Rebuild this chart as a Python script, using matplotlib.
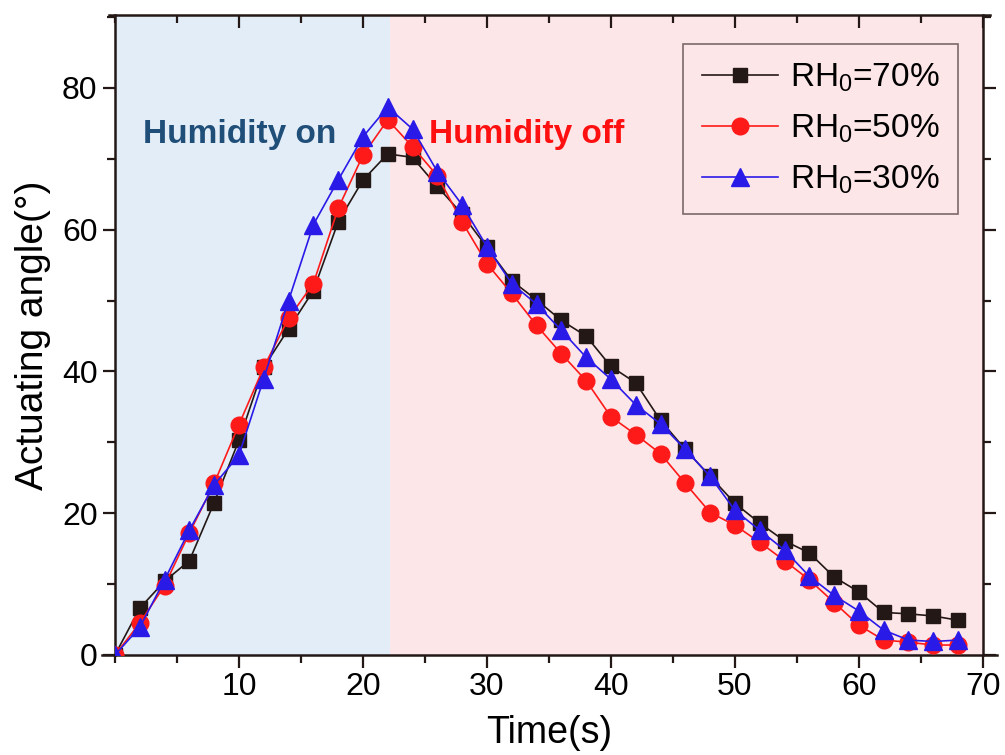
import matplotlib
matplotlib.use('Agg')
import matplotlib.pyplot as plt
from matplotlib.ticker import MultipleLocator

plt.rcParams['font.family'] = ['Liberation Sans', 'DejaVu Sans']
plt.rcParams['mathtext.fontset'] = 'custom'
plt.rcParams['mathtext.rm'] = 'Liberation Sans'
plt.rcParams['mathtext.default'] = 'regular'

# Datos
tiempo = list(range(0, 70, 2))
rh70 = [0, 6.6, 10.4, 13.3, 21.5, 30.3, 40.6, 46.0, 51.4, 61.1, 67.0, 70.7,
        70.2, 66.1, 62.2, 57.5, 52.8, 50.1, 47.2, 45.0, 40.7, 38.4, 33.1,
        29.0, 25.2, 21.4, 18.6, 16.1, 14.4, 11.0, 8.9, 6.0, 5.8, 5.5, 4.9]
rh50 = [0, 4.5, 9.8, 17.2, 24.2, 32.5, 40.6, 47.5, 52.4, 63.0, 70.5, 75.5,
        71.7, 67.6, 61.1, 55.2, 51.0, 46.5, 42.5, 38.7, 33.6, 31.1, 28.4,
        24.2, 20.1, 18.3, 15.9, 13.3, 10.6, 7.4, 4.2, 2.1, 1.8, 1.4, 1.4]
rh30 = [0, 3.9, 10.6, 17.6, 24.0, 28.2, 39.0, 50.0, 60.7, 67.0, 73.1, 77.3,
        74.2, 68.2, 63.5, 57.6, 52.4, 49.5, 45.8, 42.0, 38.9, 35.3, 32.6,
        29.0, 25.2, 20.4, 17.6, 14.8, 11.1, 8.4, 6.2, 3.5, 2.1, 1.9, 2.1]
etiquetas = ['RH$_0$=70%', 'RH$_0$=50%', 'RH$_0$=30%']
t_corte = 22.2

fig = plt.figure(figsize=(10.05, 7.55), dpi=100)
ax = fig.add_axes([0.1144, 0.1325, 0.8636, 0.8477])

ax.axvspan(0, t_corte, color='#E3EDF7', zorder=0, lw=0)
ax.axvspan(t_corte, 70, color='#FDE6E8', zorder=0, lw=0)

ax.plot(tiempo, rh70, color='#231815', lw=1.2, marker='s', ms=10.5,
        mfc='#231815', mec='#231815', label=etiquetas[0], zorder=3)
ax.plot(tiempo, rh50, color='#FF1A1A', lw=1.2, marker='o', ms=12,
        mfc='#FF1A1A', mec='#FF1A1A', label=etiquetas[1], zorder=4)
ax.plot(tiempo, rh30, color='#2A1AE8', lw=1.2, marker='^', ms=12.5,
        mfc='#2A1AE8', mec='#2A1AE8', label=etiquetas[2], zorder=5)

ax.text(2.3, 73.5, 'Humidity on', color='#1F4E79', fontsize=24,
        fontweight='bold', va='center', ha='left')
ax.text(25.3, 73.5, 'Humidity off', color='#FF1010', fontsize=24,
        fontweight='bold', va='center', ha='left')

ax.set_xlim(0, 70)
ax.set_ylim(0, 90.3)
ax.xaxis.set_major_locator(MultipleLocator(10))
ax.xaxis.set_minor_locator(MultipleLocator(5))
ax.yaxis.set_major_locator(MultipleLocator(20))
ax.yaxis.set_minor_locator(MultipleLocator(10))
ax.set_xticks(range(10, 71, 10))

ax.tick_params(which='both', direction='out', width=1.6, labelsize=23,
               top=True, right=True, color='#231815')
ax.tick_params(which='major', length=9)
ax.tick_params(which='minor', length=5.5)
for tk in ax.xaxis.get_major_ticks() + ax.xaxis.get_minor_ticks():
    tk.tick2line.set_marker(3)  # marcas superiores hacia dentro

for s in ax.spines.values():
    s.set_linewidth(1.8)
    s.set_color('#231815')
ax.spines['bottom'].set_bounds(-1.05, 71.1)
ax.spines['top'].set_bounds(-0.5, 70.6)

ax.set_xlabel('Time(s)', fontsize=27, labelpad=9)
ax.set_ylabel('Actuating angle(°)', fontsize=28, labelpad=8)

leg = ax.legend(loc='upper right', bbox_to_anchor=(0.971, 0.955),
                borderaxespad=0, fontsize=24, frameon=True, fancybox=False,
                facecolor='none', edgecolor='#5A4A4A', handlelength=2.3,
                handletextpad=0.35, borderpad=0.55, labelspacing=0.55)
leg.get_frame().set_linewidth(1.2)

plt.savefig('out.png', dpi=100)
